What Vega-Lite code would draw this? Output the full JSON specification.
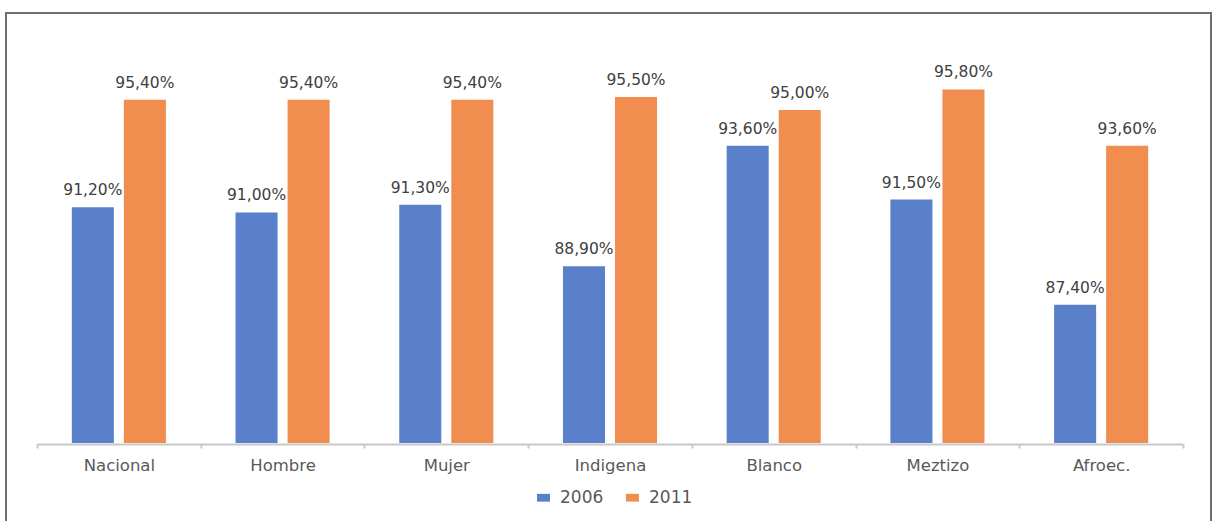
{
  "$schema": "https://vega.github.io/schema/vega-lite/v6.json",
  "width": 1205,
  "height": 512,
  "autosize": {"type": "none"},
  "padding": {"left": 6, "top": 13, "right": 2, "bottom": 0},
  "config": {
    "locale": {"number": {"decimal": ",", "thousands": ".", "grouping": [3], "currency": ["", " €"]}},
    "view": {"stroke": "#6e6e6e", "strokeWidth": 2},
    "font": "DejaVu Sans"
  },
  "data": {
    "values": [
      {"grupo": "Nacional", "anio": "2006", "valor": 0.912},
      {"grupo": "Nacional", "anio": "2011", "valor": 0.954},
      {"grupo": "Hombre", "anio": "2006", "valor": 0.910},
      {"grupo": "Hombre", "anio": "2011", "valor": 0.954},
      {"grupo": "Mujer", "anio": "2006", "valor": 0.913},
      {"grupo": "Mujer", "anio": "2011", "valor": 0.954},
      {"grupo": "Indigena", "anio": "2006", "valor": 0.889},
      {"grupo": "Indigena", "anio": "2011", "valor": 0.955},
      {"grupo": "Blanco", "anio": "2006", "valor": 0.936},
      {"grupo": "Blanco", "anio": "2011", "valor": 0.950},
      {"grupo": "Meztizo", "anio": "2006", "valor": 0.915},
      {"grupo": "Meztizo", "anio": "2011", "valor": 0.958},
      {"grupo": "Afroec.", "anio": "2006", "valor": 0.874},
      {"grupo": "Afroec.", "anio": "2011", "valor": 0.936}
    ]
  },
  "encoding": {
    "x": {
      "field": "grupo",
      "type": "nominal",
      "sort": null,
      "scale": {"range": [31, 1177], "paddingInner": 0, "paddingOuter": 0},
      "axis": {
        "title": null,
        "labelAngle": 0,
        "offset": -81,
        "grid": false,
        "domainColor": "#c8c8c8",
        "domainWidth": 2,
        "tickColor": "#c8c8c8",
        "tickWidth": 2,
        "tickSize": 4,
        "tickBand": "extent",
        "labelFontSize": 16.5,
        "labelColor": "#595959",
        "labelPadding": 9
      }
    },
    "xOffset": {"field": "anio", "type": "nominal", "scale": {"paddingInner": 0.1923, "paddingOuter": 0.669}},
    "y": {
      "field": "valor",
      "type": "quantitative",
      "scale": {"domain": [0.82, 0.98], "range": [430, 20], "zero": false},
      "axis": null
    }
  },
  "layer": [
    {
      "mark": {"type": "bar"},
      "encoding": {
        "y2": {"datum": 0.82},
        "color": {
          "field": "anio",
          "type": "nominal",
          "scale": {"range": ["#5a80cc", "#f08d4f"]},
          "legend": {
            "title": null,
            "orient": "none",
            "legendX": 529,
            "legendY": 476,
            "direction": "horizontal",
            "symbolType": "M-1,-0.6H1V0.6H-1Z",
            "symbolSize": 169,
            "symbolStrokeWidth": 0,
            "labelFontSize": 17,
            "labelColor": "#595959",
            "columnPadding": 20,
            "labelOffset": 8
          }
        }
      }
    },
    {
      "mark": {"type": "text", "baseline": "alphabetic", "dy": -12, "fontSize": 15.5, "color": "#404040"},
      "encoding": {
        "text": {"field": "valor", "type": "quantitative", "format": ".2%"}
      }
    }
  ]
}
